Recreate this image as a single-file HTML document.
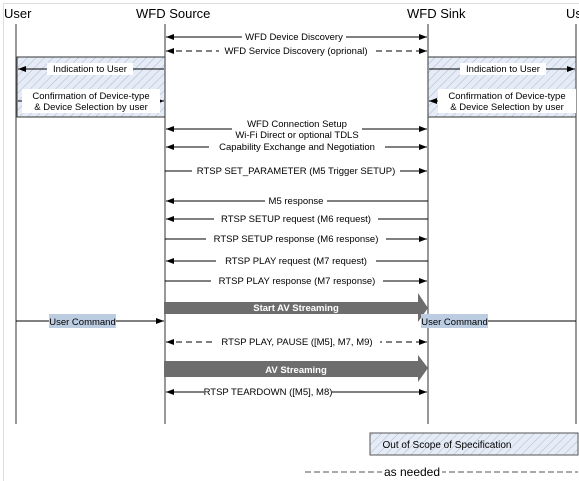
<!DOCTYPE html>
<html><head><meta charset="utf-8"><style>
html,body{margin:0;padding:0;background:#fff;}
svg{display:block;font-family:"Liberation Sans",Arial,sans-serif;}
</style></head><body>
<svg width="579" height="481" viewBox="0 0 579 481" xmlns="http://www.w3.org/2000/svg">
<defs>
<pattern id="h" width="6" height="6" patternUnits="userSpaceOnUse" patternTransform="rotate(45)">
<rect width="6" height="6" fill="#e6ecf6"/><line x1="0" y1="0" x2="0" y2="6" stroke="#aab8d6" stroke-width="1"/>
</pattern>
<marker id="a" markerWidth="8" markerHeight="6" refX="8" refY="3" orient="auto-start-reverse" markerUnits="userSpaceOnUse"><path d="M0,0 L8,3 L0,6 z" fill="#000"/></marker>
</defs>
<rect x="3.5" y="3.5" width="580" height="480" fill="none" stroke="#ddd"/>
<g font-size="13" fill="#000">
<text x="4" y="18">User</text>
<text x="136" y="18">WFD Source</text>
<text x="407" y="18">WFD Sink</text>
<text x="566" y="18">User</text>
</g>
<rect x="17" y="57" width="148" height="60" fill="url(#h)" stroke="#333"/>
<rect x="428" y="57" width="148" height="60" fill="url(#h)" stroke="#333"/>
<g stroke="#555" stroke-width="1.2">
<line x1="16" y1="24" x2="16" y2="424"/>
<line x1="165" y1="24" x2="165" y2="424"/>
<line x1="428" y1="24" x2="428" y2="424"/>
<line x1="576" y1="24" x2="576" y2="424"/>
</g>
<g stroke="#000" stroke-width="1" fill="none">
<line x1="166" y1="37" x2="427" y2="37" marker-start="url(#a)" marker-end="url(#a)"/>
<line x1="166" y1="51" x2="427" y2="51" stroke-dasharray="6,4" marker-start="url(#a)" marker-end="url(#a)"/>
<line x1="164" y1="69" x2="18" y2="69" marker-end="url(#a)"/>
<line x1="18" y1="101" x2="164" y2="101" marker-end="url(#a)"/>
<line x1="429" y1="69" x2="575" y2="69" marker-end="url(#a)"/>
<line x1="575" y1="101" x2="429" y2="101" marker-end="url(#a)"/>
<line x1="166" y1="129" x2="427" y2="129" marker-start="url(#a)" marker-end="url(#a)"/>
<line x1="166" y1="147" x2="427" y2="147" marker-start="url(#a)" marker-end="url(#a)"/>
<line x1="165" y1="171" x2="427" y2="171" marker-end="url(#a)"/>
<line x1="428" y1="201" x2="166" y2="201" marker-end="url(#a)"/>
<line x1="428" y1="219" x2="166" y2="219" marker-end="url(#a)"/>
<line x1="165" y1="239" x2="427" y2="239" marker-end="url(#a)"/>
<line x1="428" y1="261" x2="166" y2="261" marker-end="url(#a)"/>
<line x1="165" y1="281" x2="427" y2="281" marker-end="url(#a)"/>
<line x1="16" y1="321" x2="164" y2="321" marker-end="url(#a)"/>
<line x1="576" y1="321" x2="429" y2="321" marker-end="url(#a)"/>
<line x1="166" y1="342" x2="427" y2="342" stroke-dasharray="6,4" marker-start="url(#a)" marker-end="url(#a)"/>
<line x1="166" y1="392" x2="427" y2="392" marker-start="url(#a)" marker-end="url(#a)"/>
</g>
<path d="M164,302 L418,302 L418,293 L428,308 L418,322 L418,314 L164,314 z" fill="#6d6d6d"/>
<path d="M164,361 L418,361 L418,355 L428,368 L418,382 L418,377 L164,377 z" fill="#6d6d6d"/>
<g fill="#fff" stroke="none">
<rect x="242" y="31" width="104" height="12"/>
<rect x="219" y="45" width="154" height="12"/>
<rect x="47" y="63" width="86" height="12"/>
<rect x="22" y="89" width="138" height="24"/>
<rect x="460" y="63" width="86" height="12"/>
<rect x="438" y="89" width="138" height="24"/>
<rect x="232" y="117" width="130" height="24"/>
<rect x="209" y="141" width="176" height="12"/>
<rect x="192" y="165" width="208" height="12"/>
<rect x="265" y="195" width="62" height="12"/>
<rect x="214" y="213" width="164" height="12"/>
<rect x="206" y="233" width="180" height="12"/>
<rect x="216" y="255" width="160" height="12"/>
<rect x="211" y="275" width="172" height="12"/>
<rect x="214" y="336" width="166" height="12"/>
<rect x="204" y="386" width="128" height="12"/>
</g>
<g font-size="9.5" fill="#000" text-anchor="middle">
<text x="294" y="40">WFD Device Discovery</text>
<text x="296" y="54">WFD Service Discovery (oprional)</text>
<text x="90" y="72">Indication to User</text>
<text x="91" y="99">Confirmation of Device-type</text>
<text x="91" y="110">&amp; Device Selection by user</text>
<text x="503" y="72">Indication to User</text>
<text x="507" y="99">Confirmation of Device-type</text>
<text x="507" y="110">&amp; Device Selection by user</text>
<text x="297" y="127">WFD Connection Setup</text>
<text x="297" y="138">Wi-Fi Direct or optional TDLS</text>
<text x="297" y="150">Capability Exchange and Negotiation</text>
<text x="296" y="174">RTSP SET_PARAMETER (M5 Trigger SETUP)</text>
<text x="296" y="204">M5 response</text>
<text x="296" y="222">RTSP SETUP request (M6 request)</text>
<text x="296" y="242">RTSP SETUP response (M6 response)</text>
<text x="296" y="264">RTSP PLAY request (M7 request)</text>
<text x="297" y="284">RTSP PLAY response (M7 response)</text>
<text x="297" y="345">RTSP PLAY, PAUSE ([M5], M7, M9)</text>
<text x="268" y="395">RTSP TEARDOWN ([M5], M8)</text>
</g>
<g font-size="9.5" font-weight="bold" fill="#fff" text-anchor="middle">
<text x="296" y="311">Start AV Streaming</text>
<text x="296" y="373">AV Streaming</text>
</g>
<rect x="49" y="314" width="67" height="14" fill="#bccde2"/>
<text x="82.5" y="325" font-size="9.5" text-anchor="middle">User Command</text>
<rect x="421" y="314" width="67" height="14" fill="#bccde2"/>
<text x="454.5" y="325" font-size="9.5" text-anchor="middle">User Command</text>
<rect x="370" y="433" width="208" height="22" fill="url(#h)" stroke="#555"/>
<text x="447" y="448" font-size="10" text-anchor="middle">Out of Scope of Specification</text>
<line x1="305" y1="472" x2="578" y2="472" stroke="#555" stroke-dasharray="6,3"/>
<rect x="382" y="463" width="60" height="14" fill="#fff"/>
<text x="412" y="476" font-size="12" text-anchor="middle">as needed</text>
</svg>
</body></html>
